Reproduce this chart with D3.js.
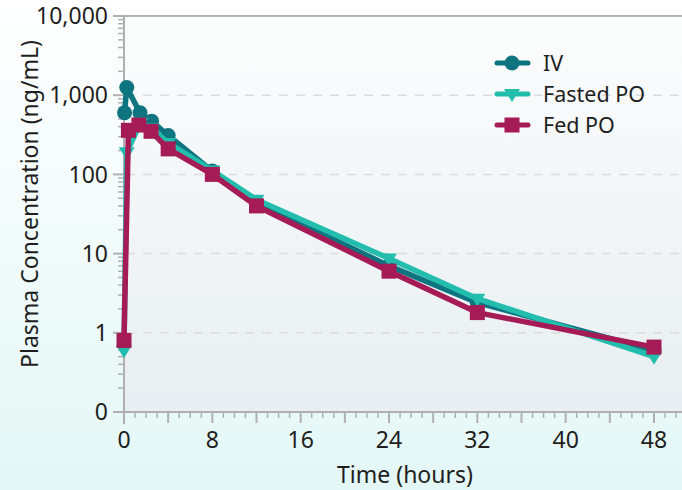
<!DOCTYPE html>
<html><head><meta charset="utf-8">
<script src="https://cdn.jsdelivr.net/npm/d3@7/dist/d3.min.js"></script>
<style>body{margin:0;padding:0;overflow:hidden}svg{display:block}</style>
</head><body>
<script>
// Data
const ivTime   = [0.05, 0.25, 1.45, 2.5, 4, 8, 12, 24, 32, 48];
const ivConc   = [600, 1250, 600, 470, 310, 110, 44, 7, 2.4, 0.6];
const fastTime = [0, 0.25, 1.5, 2.5, 4, 8, 12, 24, 32, 48];
const fastConc = [0.6, 190, 450, 380, 250, 112, 48, 8.7, 2.7, 0.5];
const fedTime  = [0, 0.4, 1.35, 2.45, 4, 8, 12, 24, 32, 48];
const fedConc  = [0.8, 360, 420, 350, 210, 100, 40, 6, 1.8, 0.66];
const xTicks = [0, 8, 16, 24, 32, 40, 48];
const yTicks = [0.1, 1, 10, 100, 1000, 10000];
const seriesNames = ["IV", "Fasted PO", "Fed PO"];

(function(){
const W = 682, H = 490;
const colors = {"IV": "#0d7480", "Fasted PO": "#22bdad", "Fed PO": "#a51b56"};
const svg = d3.select("body").append("svg").attr("width", W).attr("height", H);
const defs = svg.append("defs");
const g1 = defs.append("linearGradient").attr("id","bg").attr("x1",0).attr("y1",0).attr("x2",0).attr("y2",1);
g1.append("stop").attr("offset","0%").attr("stop-color","#ffffff");
g1.append("stop").attr("offset","100%").attr("stop-color","#e3f7f6");
const g2 = defs.append("linearGradient").attr("id","pbg").attr("x1",0).attr("y1",0).attr("x2",0).attr("y2",1);
g2.append("stop").attr("offset","0%").attr("stop-color","#fcfdfd");
g2.append("stop").attr("offset","100%").attr("stop-color","#e8eef1");

svg.append("rect").attr("width",W).attr("height",H).attr("fill","url(#bg)");

const x = d3.scaleLinear().domain([0,48]).range([124,654]);
const y = d3.scaleLog().domain([0.1,10000]).range([412,16]);
const pL = x(0), pB = y(0.1), pT = y(10000);

svg.append("rect").attr("x",pL).attr("y",pT).attr("width",W-pL).attr("height",pB-pT).attr("fill","url(#pbg)");

// gridlines
svg.append("g").selectAll("line").data([1,10,100,1000]).join("line")
  .attr("x1",pL+2).attr("x2",W).attr("y1",d=>y(d)).attr("y2",d=>y(d))
  .attr("stroke","#dcdcdc").attr("stroke-width",1.5).attr("stroke-dasharray","9,8");
svg.append("line").attr("x1",113).attr("x2",W).attr("y1",pT).attr("y2",pT)
  .attr("stroke","#b4b4b4").attr("stroke-width",2);

const axisCol = "#b0b0b0";
const font = "'Noto Sans', 'Open Sans', sans-serif";
const txtCol = "#1e1e1e";

// Y axis
const yMinor = [];
for (let e=-1;e<4;e++) for (let k=2;k<10;k++) yMinor.push(k*Math.pow(10,e));
const yAx = svg.append("g");
yAx.selectAll(".mn").data(yMinor).join("line").attr("class","mn")
  .attr("x1",pL-6).attr("x2",pL).attr("y1",d=>y(d)).attr("y2",d=>y(d))
  .attr("stroke",axisCol).attr("stroke-width",1.5);
yAx.selectAll(".mj").data(yTicks).join("line").attr("class","mj")
  .attr("x1",pL-11).attr("x2",pL).attr("y1",d=>y(d)).attr("y2",d=>y(d))
  .attr("stroke",axisCol).attr("stroke-width",2);
yAx.append("line").attr("x1",pL).attr("x2",pL).attr("y1",pT).attr("y2",pB+12)
  .attr("stroke",axisCol).attr("stroke-width",2);
yAx.selectAll("text").data(yTicks).join("text")
  .attr("x",108).attr("y",d=>y(d)).attr("dy","0.36em").attr("text-anchor","end")
  .attr("font-family",font).attr("font-size",23).attr("fill",txtCol)
  .text(d=> d<1 ? "0" : d3.format(",")(d));

// X axis
const xAx = svg.append("g");
xAx.append("line").attr("x1",113).attr("x2",W).attr("y1",pB).attr("y2",pB)
  .attr("stroke",axisCol).attr("stroke-width",2);
const xMinor = d3.range(1,51).filter(d=>d%4!==0);
const xMed = d3.range(4,51,4);
xAx.selectAll(".mn").data(xMinor).join("line").attr("class","mn")
  .attr("x1",d=>x(d)).attr("x2",d=>x(d)).attr("y1",pB).attr("y2",pB+6)
  .attr("stroke",axisCol).attr("stroke-width",1.5);
xAx.selectAll(".md").data(xMed).join("line").attr("class","md")
  .attr("x1",d=>x(d)).attr("x2",d=>x(d)).attr("y1",pB).attr("y2",pB+11)
  .attr("stroke",axisCol).attr("stroke-width",2);
xAx.selectAll("text").data(xTicks).join("text")
  .attr("x",d=>x(d)).attr("y",448).attr("text-anchor","middle")
  .attr("font-family",font).attr("font-size",23).attr("fill",txtCol).text(d=>d);

svg.append("text").attr("x",405).attr("y",483).attr("text-anchor","middle")
  .attr("font-family",font).attr("font-size",23).attr("fill",txtCol).text("Time (hours)");
svg.append("text").attr("transform","translate(38,204) rotate(-90)").attr("text-anchor","middle")
  .attr("font-family",font).attr("font-size",23).attr("fill",txtCol).text("Plasma Concentration (ng/mL)");

// series
const series = [
  {name:seriesNames[0], t:ivTime, c:ivConc, shape:"circle"},
  {name:seriesNames[1], t:fastTime, c:fastConc, shape:"tri"},
  {name:seriesNames[2], t:fedTime, c:fedConc, shape:"square"}
];
const line = d3.line().x(d=>x(d[0])).y(d=>y(d[1]));
function marker(sel, shape, col){
  if (shape==="circle") sel.append("circle").attr("r",7.5).attr("fill",col);
  else if (shape==="square") sel.append("rect").attr("x",-7.5).attr("y",-7.5).attr("width",15).attr("height",15).attr("fill",col);
  else sel.append("path").attr("d","M-8,-5 L8,-5 L0,8 Z").attr("fill",col);
}
series.forEach(s=>{
  const pts = s.t.map((t,i)=>[t,s.c[i]]);
  const col = colors[s.name];
  const g = svg.append("g");
  g.append("path").datum(pts).attr("d",line).attr("fill","none").attr("stroke",col)
    .attr("stroke-width",5.5).attr("stroke-linejoin","round");
  pts.forEach(p=>{
    const m = g.append("g").attr("transform",`translate(${x(p[0])},${y(p[1])})`);
    marker(m, s.shape, col);
  });
});

// legend
const lg = svg.append("g");
series.forEach((s,i)=>{
  const yy = 63 + i*31, col = colors[s.name];
  lg.append("line").attr("x1",497).attr("x2",528).attr("y1",yy).attr("y2",yy)
    .attr("stroke",col).attr("stroke-width",5).attr("stroke-linecap","round");
  const m = lg.append("g").attr("transform",`translate(512,${yy})`);
  marker(m, s.shape, col);
  lg.append("text").attr("x",543).attr("y",yy).attr("dy","0.36em")
    .attr("font-family",font).attr("font-size",21.5).attr("fill",txtCol).text(s.name);
});
})();
</script>
</body></html>
